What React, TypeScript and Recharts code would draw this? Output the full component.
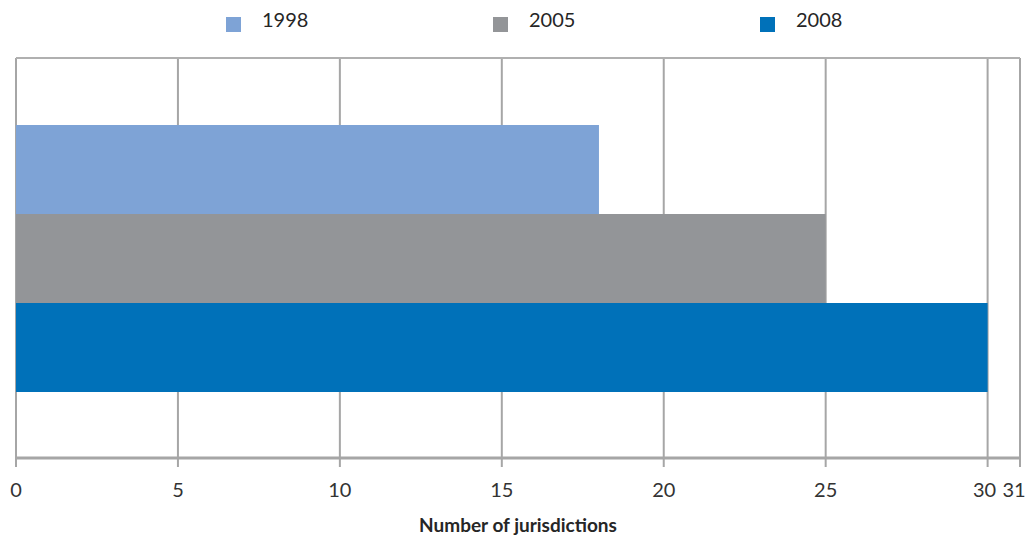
import { BarChart, Bar, XAxis, YAxis, CartesianGrid } from 'recharts'

// one single category, three years
const categories = ['Jurisdictions']
const years = ['1998', '2005', '2008']
const values = [18, 25, 30]
const colors = ['#7ea3d6', '#939598', '#0071b9']
const xTicks = [0, 5, 10, 15, 20, 25, 30, 31]

const data = categories.map((name) => {
  const row: Record<string, string | number> = { name }
  years.forEach((y, i) => { row[y] = values[i] })
  return row
})

const FONT = 'Lato, "Open Sans", sans-serif'

const renderTick = (props: any) => {
  const { x, y, payload, index } = props
  // the two last labels (30, 31) are nudged left so they fit in the frame
  const dx = index === xTicks.length - 1 ? -6 : index === xTicks.length - 2 ? -3 : 0
  return (
    <text
      x={x}
      y={y}
      dx={dx}
      dy="0.71em"
      textAnchor="middle"
      fill="#333"
      fontSize={20}
      fontFamily={FONT}
    >
      {payload.value}
    </text>
  )
}

function LegendRow() {
  return (
    <div style={{ position: 'absolute', top: 7, left: 0, display: 'flex', paddingLeft: 226, fontFamily: FONT, fontSize: 20, color: '#262626' }}>
      {years.map((y, i) => (
        <div key={y} style={{ width: 267, display: 'flex', alignItems: 'flex-start' }}>
          <span style={{ display: 'inline-block', width: 15, height: 15, background: colors[i], marginTop: 10, marginRight: 21 }} />
          <span style={{ lineHeight: '24px' }}>{y}</span>
        </div>
      ))}
    </div>
  )
}

export default function App() {
  return (
    <div style={{ position: 'absolute', left: 0, top: 0, width: 1029, height: 540, background: '#fff' }}>
      <BarChart
        width={1029}
        height={540}
        data={data}
        layout="vertical"
        margin={{ top: 57, right: 9, left: 16, bottom: 0 }}
        barCategoryGap={67}
        barGap={0}
      >
        <CartesianGrid horizontal={false} stroke="#a6a6a6" strokeWidth={2} />
        <XAxis
          type="number"
          domain={[0, 31]}
          ticks={xTicks}
          interval={0}
          height={82}
          axisLine={{ stroke: '#a6a6a6', strokeWidth: 3 }}
          tickLine={{ stroke: '#a6a6a6', strokeWidth: 2 }}
          tickSize={9}
          tickMargin={16}
          tick={renderTick}
          label={{
            content: (p: any) => {
              const vb = p.viewBox
              return (
                <text
                  x={vb.x + vb.width / 2}
                  y={vb.y + 74}
                  textAnchor="middle"
                  fontSize={19}
                  fontWeight="bold"
                  fontFamily={FONT}
                  fill="#262626"
                >
                  Number of jurisdictions
                </text>
              )
            },
          }}
        />
        <XAxis
          xAxisId="top"
          orientation="top"
          type="number"
          domain={[0, 31]}
          height={1}
          tick={false}
          tickLine={false}
          axisLine={{ stroke: '#b0b0b0', strokeWidth: 2 }}
        />
        <YAxis
          type="category"
          dataKey="name"
          width={0}
          tick={false}
          tickLine={false}
          axisLine={{ stroke: '#a6a6a6', strokeWidth: 2 }}
        />
        {years.map((y, i) => (
          <Bar key={y} dataKey={y} fill={colors[i]} isAnimationActive={false} />
        ))}
      </BarChart>
      <LegendRow />
    </div>
  )
}
